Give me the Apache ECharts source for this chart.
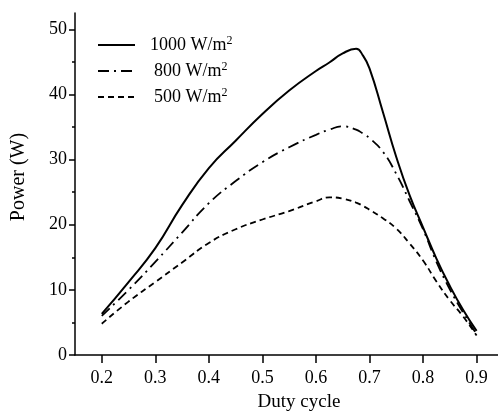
<!DOCTYPE html>
<html>
<head>
<meta charset="utf-8">
<script src="https://cdn.jsdelivr.net/npm/echarts@6/dist/echarts.min.js"></script>
<style>html,body{margin:0;padding:0;background:#fff}#c{width:498px;height:412px}</style>
</head>
<body>
<div id="c"></div>
<script>
var dutyCycle = [0.2,0.25,0.3,0.35,0.4,0.45,0.5,0.55,0.6,0.625,0.65,0.675,0.6875,0.7,0.725,0.75,0.775,0.8,0.825,0.85,0.875,0.9];
var power1000 = [6.3,11.2,16.4,23.0,28.7,32.9,37.0,40.6,43.6,44.9,46.3,47.0,46.0,44.0,37.3,30.4,24.5,19.6,14.8,10.6,6.9,3.7];
var power800  = [6.0,10.0,14.3,18.8,23.3,26.7,29.6,31.9,33.8,34.6,35.1,34.6,34.0,33.3,31.2,27.8,23.6,19.3,14.3,10.1,6.5,3.2];
var power500  = [4.8,8.2,11.2,14.2,17.2,19.3,20.8,22.1,23.6,24.2,24.0,23.4,22.9,22.3,21.0,19.4,17.1,14.5,11.3,8.4,5.9,3.0];
var seriesNames = ['1000 W/m2','800 W/m2','500 W/m2'];
var xTicks = [0.2,0.3,0.4,0.5,0.6,0.7,0.8,0.9];
var yTicks = [0,10,20,30,40,50];

function pairs(ys){ return dutyCycle.map(function(x,i){ return [x, ys[i]]; }); }
var font = 'Liberation Serif';
var chart = echarts.init(document.getElementById('c'), null, {renderer:'canvas'});
var mk = function(name, ys, type, w){
  return {name:name, type:'line', data:pairs(ys), smooth:0.5, symbol:'none',
    lineStyle:{color:'#000', width:w, type:type}, itemStyle:{color:'#000'}};
};
chart.setOption({
  animation:false,
  backgroundColor:'#fff',
  grid:{left:75, right:0, top:13, bottom:57, outerBoundsMode:'none', containLabel:false},
  legend:{
    orient:'vertical', left:97, top:35, padding:0, itemGap:7,
    itemWidth:37, itemHeight:14,
    itemStyle:{color:'rgba(0,0,0,0)', borderColor:'rgba(0,0,0,0)', borderWidth:0, opacity:0},
    data:[
      {name:seriesNames[0], textStyle:{padding:[0,0,0,10]}},
      {name:seriesNames[1], textStyle:{padding:[0,0,0,14]}},
      {name:seriesNames[2], textStyle:{padding:[0,0,0,14]}}
    ],
    formatter:function(n){ return '{a|' + n.slice(0,-1) + '}{s|2}'; },
    textStyle:{fontFamily:font, fontSize:18, color:'#000',
      rich:{a:{fontFamily:font, fontSize:18, color:'#000', lineHeight:20},
            s:{fontFamily:font, fontSize:12, color:'#000', verticalAlign:'top', padding:[0,0,8,0]}}}
  },
  xAxis:{
    type:'value', min:0.15, max:0.94, interval:0.1,
    name:'Duty cycle', nameLocation:'middle', nameGap:38,
    nameTextStyle:{fontFamily:font, fontSize:19, color:'#000', padding:[0,0,0,25]},
    axisLine:{lineStyle:{color:'#000', width:1.5}},
    axisTick:{show:true, length:8, customValues:xTicks, lineStyle:{color:'#000', width:1.5}},
    minorTick:{show:true, splitNumber:2, length:4, lineStyle:{color:'#000', width:1.5}},
    axisLabel:{customValues:xTicks, margin:14, fontFamily:font, fontSize:18, color:'#000',
      formatter:function(v){ return v.toFixed(1); }},
    splitLine:{show:false}
  },
  yAxis:{
    type:'value', min:0, max:52.5, interval:10,
    name:'Power (W)', nameLocation:'middle', nameGap:46, nameRotate:90,
    nameTextStyle:{fontFamily:font, fontSize:20, color:'#000', padding:[0,0,0,14]},
    axisLine:{show:true, lineStyle:{color:'#000', width:1.5}},
    axisTick:{show:true, length:6, customValues:yTicks, lineStyle:{color:'#000', width:1.5}},
    minorTick:{show:true, splitNumber:2, length:3, lineStyle:{color:'#000', width:1.5}},
    axisLabel:{customValues:yTicks, margin:8, fontFamily:font, fontSize:18, color:'#000'},
    splitLine:{show:false}
  },
  series:[
    mk(seriesNames[0], power1000, 'solid', 2),
    mk(seriesNames[1], power800, [11,5,2,5], 1.8),
    mk(seriesNames[2], power500, [6,4], 1.8)
  ]
});
</script>
</body>
</html>
